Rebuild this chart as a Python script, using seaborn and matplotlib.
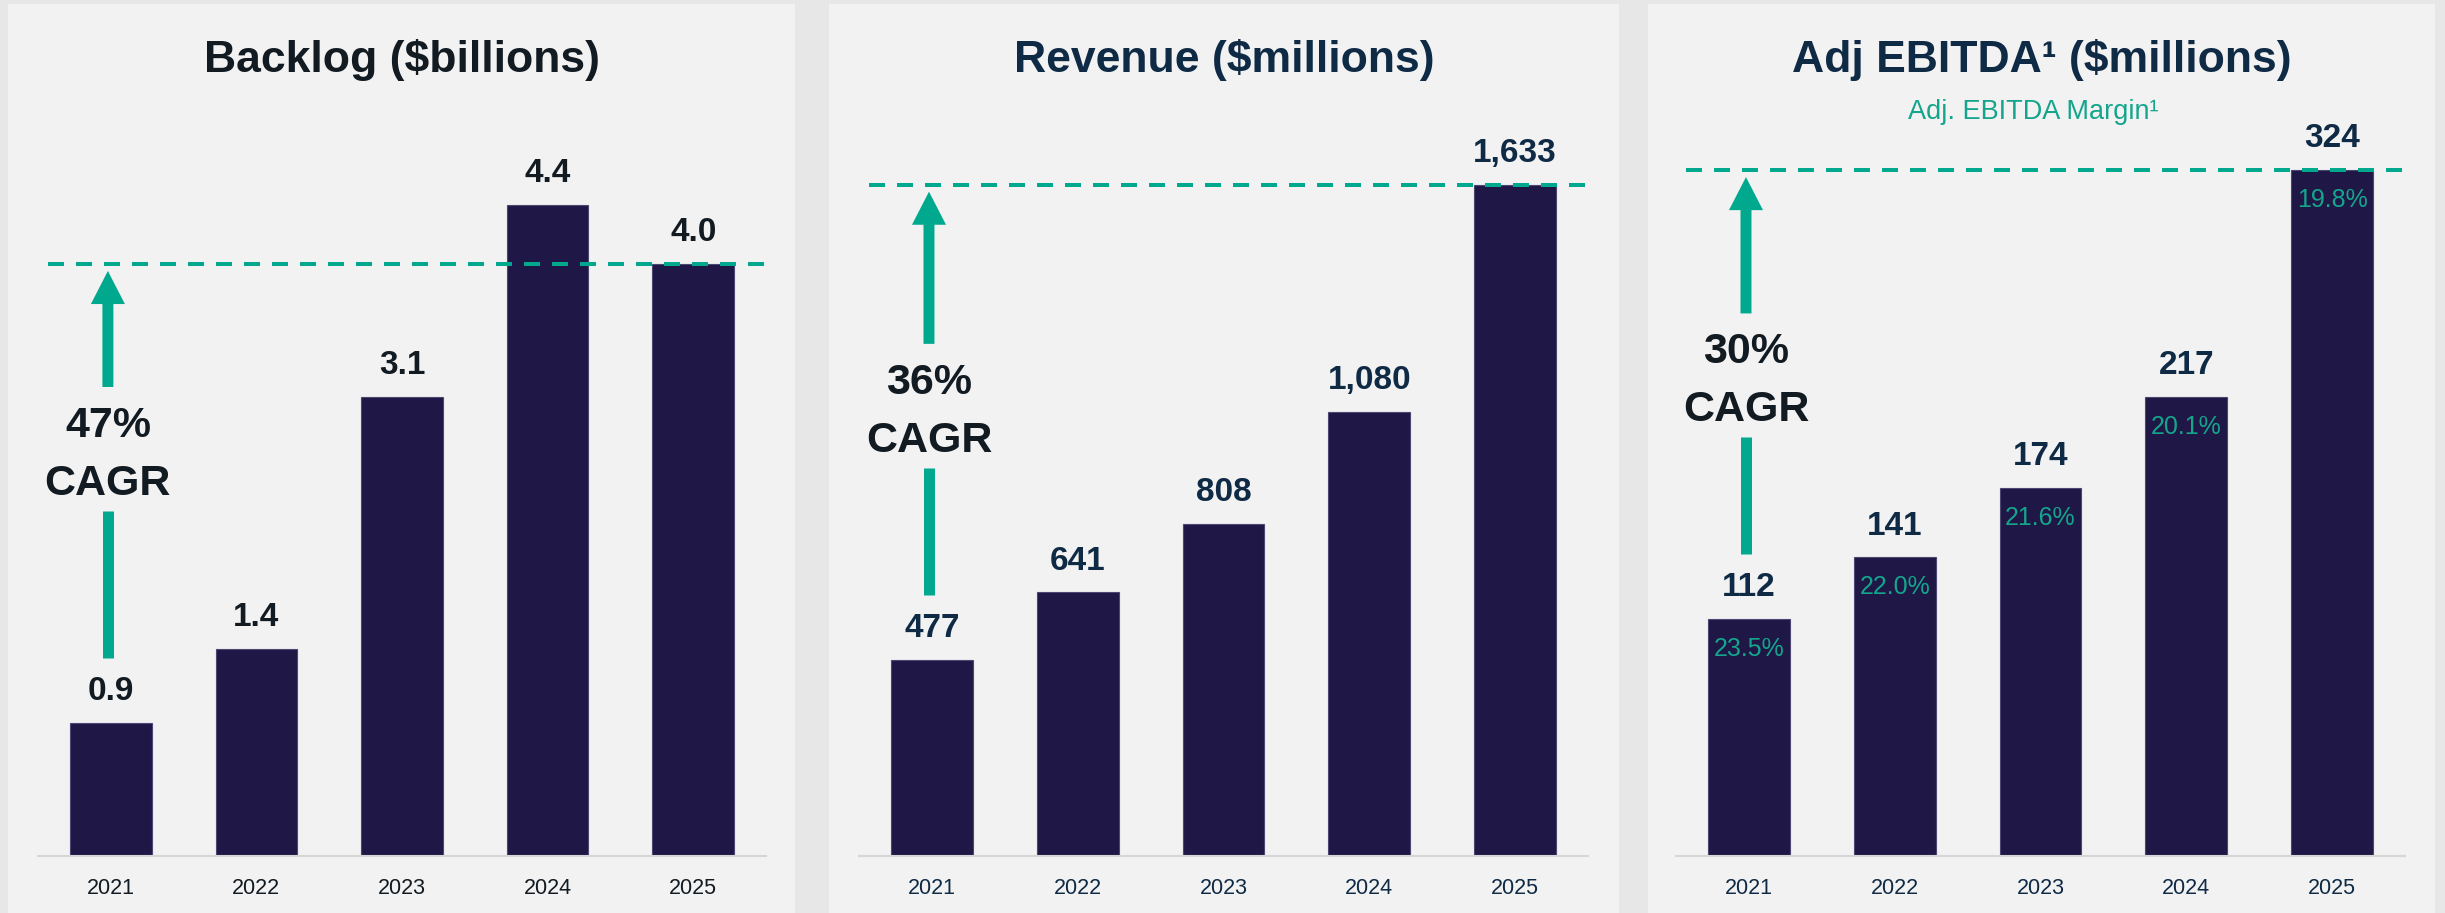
import matplotlib
matplotlib.use("Agg")
import matplotlib.pyplot as plt
import seaborn as sns
import pandas as pd
from matplotlib.patches import Rectangle

# ---------------- data ----------------
years = ["2021", "2022", "2023", "2024", "2025"]
backlog = [0.9, 1.4, 3.1, 4.4, 4.0]
revenue = [477, 641, 808, 1080, 1633]
ebitda = [112, 141, 174, 217, 324]
backlog_labels = ["0.9", "1.4", "3.1", "4.4", "4.0"]
revenue_labels = ["477", "641", "808", "1,080", "1,633"]
ebitda_labels = ["112", "141", "174", "217", "324"]
ebitda_margin = ["23.5%", "22.0%", "21.6%", "20.1%", "19.8%"]
titles = ["Backlog ($billions)", "Revenue ($millions)", "Adj EBITDA¹ ($millions)"]
subtitle = "Adj. EBITDA Margin¹"
cagr_values = ["47%", "36%", "30%"]
cagr_word = "CAGR"

# ---------------- style ----------------
sns.set_style("white")
plt.rcParams["font.family"] = ["Liberation Sans", "DejaVu Sans"]

W, H = 2445, 913
DPI = 100
outer_bg = "#e7e7e7"
panel_bg = "#f2f2f2"
bar_color = "#1f1846"
teal = "#00a88e"
teal_text = "#14a58c"
black_txt = "#121a22"
navy_txt = "#0f2a45"

fig = plt.figure(figsize=(W / DPI, H / DPI), dpi=DPI, facecolor=outer_bg)

panel_px = [(8, 795), (829, 1619), (1648, 2435)]
axes_px = [(38, 766), (859, 1588), (1676, 2405)]
base_px, top_px = 856, 100
ylims = [5.108, 1839, 357.1]
cagr_center = [2.75, 1095, 227]
title_colors = [black_txt, navy_txt, navy_txt]
label_colors = [black_txt, navy_txt, navy_txt]

series = [backlog, revenue, ebitda]
series_labels = [backlog_labels, revenue_labels, ebitda_labels]

for k in range(3):
    px0, px1 = panel_px[k]
    fig.add_artist(Rectangle((px0 / W, 0), (px1 - px0) / W, (H - 4) / H,
                             transform=fig.transFigure, facecolor=panel_bg,
                             edgecolor="none", zorder=-10))
    ax0, ax1 = axes_px[k]
    ax = fig.add_axes([ax0 / W, (H - base_px) / H, (ax1 - ax0) / W,
                       (base_px - top_px) / H])
    ax.patch.set_visible(False)

    df = pd.DataFrame({"year": years, "value": series[k]})
    sns.barplot(data=df, x="year", y="value", ax=ax, color=bar_color,
                saturation=1, width=0.56, edgecolor="#4b4672", linewidth=0.8)
    ax.set_xlim(-0.5, 4.5)
    ax.set_ylim(0, ylims[k])
    ax.set_xlabel("")
    ax.set_ylabel("")
    ax.set_yticks([])
    for s in ["left", "right", "top"]:
        ax.spines[s].set_visible(False)
    ax.spines["bottom"].set_color("#d6d6d6")
    ax.spines["bottom"].set_linewidth(1.5)
    ax.tick_params(axis="x", length=0, pad=15.5, labelsize=15.5,
                   labelcolor=label_colors[k])

    ppu = (base_px - top_px) / ylims[k]  # pixels per data unit

    def px(d):
        return d / ppu

    vals = series[k]
    # value labels above bars
    for i, (v, lab) in enumerate(zip(vals, series_labels[k])):
        ax.annotate(lab, xy=(i, v), xytext=(0, 16.5), textcoords="offset points",
                    ha="center", va="baseline", fontsize=24, fontweight="bold",
                    color=label_colors[k])

    # margin labels inside EBITDA bars
    if k == 2:
        for i, (v, lab) in enumerate(zip(vals, ebitda_margin)):
            ax.annotate(lab, xy=(i, v), xytext=(0, -26.6),
                        textcoords="offset points", ha="center", va="baseline",
                        fontsize=18, color=teal_text)

    # dashed reference line at latest value
    ref = vals[-1]
    ax.plot([-0.43, 4.49], [ref, ref], color=teal, lw=2.88,
            linestyle=(0, (4, 3)), zorder=5, solid_capstyle="butt")

    # CAGR arrow + text
    xa = -0.02
    yc = cagr_center[k]
    ax.annotate("", xy=(xa, ref - px(7)), xytext=(xa, yc + px(62)),
                arrowprops=dict(arrowstyle="simple,head_length=23.8,head_width=24.5,tail_width=7.9",
                                mutation_scale=1, color=teal, lw=0,
                                shrinkA=0, shrinkB=0), zorder=6)
    ax.plot([xa, xa], [yc - px(62), vals[0] + px(65)], color=teal, lw=7.9,
            solid_capstyle="butt", zorder=6)
    ax.annotate(cagr_values[k], xy=(xa, yc), xytext=(0, 8.6),
                textcoords="offset points", ha="center", va="baseline",
                fontsize=31, fontweight="bold", color=black_txt)
    ax.annotate(cagr_word, xy=(xa, yc), xytext=(0, -33.1),
                textcoords="offset points", ha="center", va="baseline",
                fontsize=31, fontweight="bold", color=black_txt)

    # panel title
    fig.text((px0 + px1) / 2 / W, 1 - 72 / H, titles[k], ha="center",
             va="baseline", fontsize=32, fontweight="bold",
             color=title_colors[k])

fig.text(2033 / W, 1 - 119 / H, subtitle, ha="center", va="baseline",
         fontsize=19.5, color=teal_text)

fig.savefig("out.png", dpi=DPI, facecolor=outer_bg)
